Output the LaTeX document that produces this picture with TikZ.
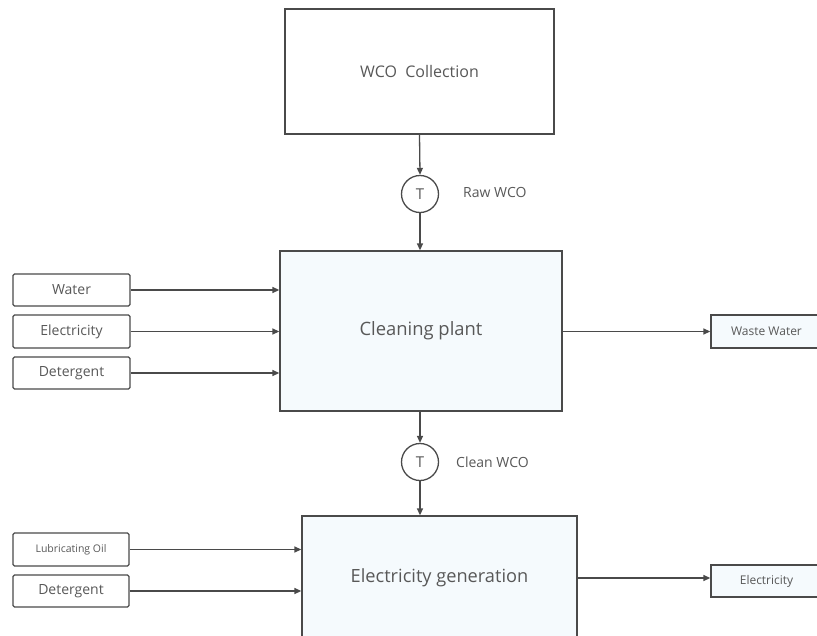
\documentclass[tikz,border=0pt]{standalone}
\usepackage{fontspec}
\setmainfont{Open Sans}
\usetikzlibrary{arrows.meta}
\definecolor{linegray}{HTML}{4A4A4A}
\definecolor{textgray}{HTML}{585858}
\definecolor{paleblue}{HTML}{F5FAFD}
\begin{document}
\begin{tikzpicture}[x=1pt,y=-1pt,
  every node/.style={text=textgray, inner sep=0pt},
  box/.style={draw=linegray, line width=1.3pt, rectangle},
  inbox/.style={box, fill=white, rounded corners=1.5pt, minimum width=117pt, minimum height=32pt, font=\fontsize{14}{16}\selectfont},
  outbox/.style={box, fill=paleblue, minimum width=111pt, minimum height=33pt, font=\fontsize{12}{14}\selectfont},
  tank/.style={draw=linegray, line width=1.3pt, circle, fill=white, minimum size=37pt, font=\fontsize{15}{17}\selectfont},
  flow/.style={draw=linegray, line width=1.3pt, -{Triangle[length=7pt,width=6pt]}},
  flowlabel/.style={anchor=west, font=\fontsize{14}{16}\selectfont}
]
\useasboundingbox (0,0) rectangle (817,635);
\clip (0,0) rectangle (817,635);

% main process blocks
\node[box, fill=white, minimum width=269pt, minimum height=125pt, font=\fontsize{16}{19}\selectfont] (collect) at (419.5,71.5) {WCO\ \ Collection};
\node[tank] (t1) at (420,194) {T};
\node[flowlabel] (rawlbl) at (463,192) {Raw WCO};
\node[box, fill=paleblue, minimum width=282pt, minimum height=160pt, font=\fontsize{18.4}{22}\selectfont] (clean) at (421,331) {Cleaning plant};
\node[tank] (t2) at (420,462) {T};
\node[flowlabel] (cleanlbl) at (456,462) {Clean WCO};
\node[box, fill=paleblue, minimum width=275pt, minimum height=124pt, font=\fontsize{18.2}{22}\selectfont] (gen) at (439.5,578) {Electricity generation};

% inputs to the cleaning plant
\node[inbox] (water) at (71.5,290) {Water};
\node[inbox, minimum height=33pt] (elecin) at (71.5,331.5) {Electricity};
\node[inbox] (det1) at (71.5,373) {Detergent};

% inputs to electricity generation
\node[inbox, minimum width=116pt, minimum height=33pt, font=\fontsize{10.5}{12}\selectfont] (lub) at (71,549.5) {Lubricating Oil};
\node[inbox, minimum width=116pt] (det2) at (71,591) {Detergent};

% outputs
\node[outbox] (waste) at (766.5,331.5) {Waste Water};
\node[outbox, minimum height=32pt] (elecout) at (766.5,581) {Electricity};

% main flow
\draw[flow] (collect.south) -- (t1.north);
\draw[flow] (t1.south) -- (clean.north -| t1.south);
\draw[flow] (clean.south -| t2.north) -- (t2.north);
\draw[flow] (t2.south) -- (gen.north -| t2.south);

% side streams
\draw[flow] (water.east) -- (water.east -| clean.west);
\draw[flow] (elecin.east) -- (elecin.east -| clean.west);
\draw[flow] (det1.east) -- (det1.east -| clean.west);
\draw[flow] (clean.east |- waste.west) -- (waste.west);
\draw[flow] (lub.east) -- (lub.east -| gen.west);
\draw[flow] (det2.east) -- (det2.east -| gen.west);
\draw[flow] (gen.east |- 0,578) -- (elecout.west |- 0,578);
\end{tikzpicture}
\end{document}
